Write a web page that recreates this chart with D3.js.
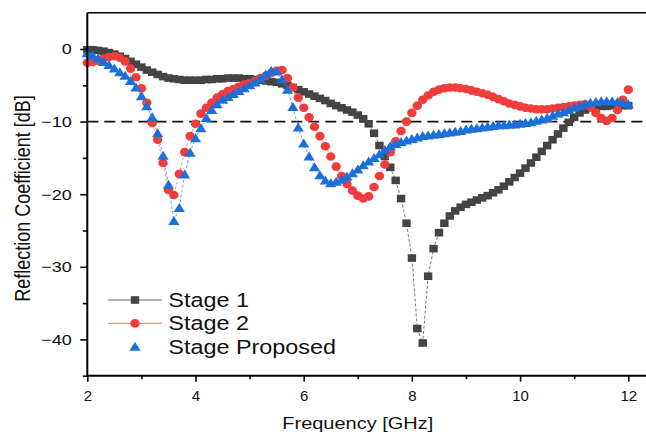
<!DOCTYPE html>
<html>
<head>
<meta charset="utf-8">
<script src="https://cdnjs.cloudflare.com/ajax/libs/d3/7.8.5/d3.min.js"></script>
<style>
  html, body { margin: 0; padding: 0; background: #fff; }
  svg { display: block; font-family: "Liberation Sans", Arial, sans-serif; }
</style>
</head>
<body>
<div class="chart"></div>
<script>
// frequency points [GHz], 0.1 GHz apart
const freq = [
    2.0, 2.1, 2.2, 2.3, 2.4, 2.5, 2.6, 2.7, 2.8, 2.9,
    3.0, 3.1, 3.2, 3.3, 3.4, 3.5, 3.6, 3.7, 3.8, 3.9,
    4.0, 4.1, 4.2, 4.3, 4.4, 4.5, 4.6, 4.7, 4.8, 4.9,
    5.0, 5.1, 5.2, 5.3, 5.4, 5.5, 5.6, 5.7, 5.8, 5.9,
    6.0, 6.1, 6.2, 6.3, 6.4, 6.5, 6.6, 6.7, 6.8, 6.9,
    7.0, 7.1, 7.2, 7.3, 7.4, 7.5, 7.6, 7.7, 7.8, 7.9,
    8.0, 8.1, 8.2, 8.3, 8.4, 8.5, 8.6, 8.7, 8.8, 8.9,
    9.0, 9.1, 9.2, 9.3, 9.4, 9.5, 9.6, 9.7, 9.8, 9.9,
    10.0, 10.1, 10.2, 10.3, 10.4, 10.5, 10.6, 10.7, 10.8, 10.9,
    11.0, 11.1, 11.2, 11.3, 11.4, 11.5, 11.6, 11.7, 11.8, 11.9,
    12.0
]

// reflection coefficient [dB]
const stage1 = [
    -0.1, -0.1, -0.2, -0.3, -0.5, -0.7, -1.0, -1.3, -1.7, -2.1,
    -2.5, -2.9, -3.2, -3.5, -3.8, -4.0, -4.1, -4.2, -4.3, -4.3,
    -4.3, -4.3, -4.2, -4.2, -4.1, -4.1, -4.0, -4.0, -4.0, -4.1,
    -4.1, -4.2, -4.3, -4.4, -4.5, -4.6, -4.8, -5.0, -5.3, -5.6,
    -5.9, -6.2, -6.5, -6.8, -7.1, -7.5, -7.8, -8.1, -8.4, -8.7,
    -9.1, -9.6, -10.3, -11.6, -13.3, -14.8, -16.3, -18.1, -20.6, -24.0,
    -28.8, -38.5, -40.5, -31.3, -27.5, -25.3, -24.0, -23.0, -22.3, -21.8,
    -21.4, -21.1, -20.8, -20.5, -20.2, -19.8, -19.4, -18.9, -18.3, -17.7,
    -17.1, -16.4, -15.7, -14.9, -14.1, -13.3, -12.5, -11.7, -10.9, -10.1,
    -9.4, -8.8, -8.4, -8.1, -8.0, -7.9, -7.9, -7.8, -7.8, -7.8,
    -7.8
]

const stage2 = [
    -1.9, -1.8, -1.6, -1.3, -1.1, -1.0, -1.2, -1.7, -2.7, -3.9,
    -5.4, -7.4, -10.2, -12.5, -15.7, -19.4, -20.1, -17.2, -14.2, -12.0,
    -10.3, -8.9, -8.1, -7.4, -6.7, -6.2, -5.8, -5.5, -5.2, -4.9,
    -4.7, -4.4, -4.0, -3.7, -3.3, -3.0, -2.9, -4.0, -5.3, -6.7,
    -8.1, -9.4, -10.7, -12.0, -13.4, -14.8, -16.2, -17.5, -18.6, -19.5,
    -20.2, -20.6, -20.3, -19.0, -17.5, -15.9, -14.2, -12.7, -11.3, -10.0,
    -8.8, -7.8, -7.0, -6.4, -5.9, -5.6, -5.4, -5.3, -5.3, -5.4,
    -5.5, -5.7, -5.9, -6.1, -6.3, -6.6, -6.9, -7.2, -7.5, -7.7,
    -7.9, -8.1, -8.2, -8.3, -8.3, -8.3, -8.2, -8.1, -8.0, -7.9,
    -7.8, -7.7, -7.6, -8.0, -8.8, -9.5, -9.9, -9.5, -8.4, -7.0,
    -5.6
]

const stageProposed = [
    -0.6, -0.9, -1.3, -1.8, -2.2, -2.7, -3.2, -3.7, -4.4, -5.3,
    -6.5, -7.9, -9.4, -11.6, -14.7, -18.7, -23.7, -21.9, -17.3, -14.3,
    -12.3, -10.9, -9.5, -8.4, -7.6, -7.0, -6.6, -6.2, -5.8, -5.4,
    -5.0, -4.6, -4.1, -3.5, -3.0, -3.1, -4.2, -5.6, -8.0, -10.8,
    -13.0, -14.8, -16.3, -17.4, -18.1, -18.5, -18.3, -18.0, -17.6, -17.1,
    -16.6, -16.0, -15.5, -15.0, -14.5, -13.9, -13.4, -13.1, -12.8, -12.6,
    -12.4, -12.2, -12.0, -11.9, -11.8, -11.7, -11.6, -11.5, -11.4, -11.3,
    -11.1, -11.0, -10.9, -10.8, -10.7, -10.6, -10.5, -10.5, -10.4, -10.4,
    -10.3, -10.2, -10.1, -9.9, -9.7, -9.5, -9.2, -8.9, -8.7, -8.4,
    -8.1, -7.9, -7.6, -7.4, -7.3, -7.2, -7.2, -7.2, -7.3, -7.4,
    -7.6
]

const seriesNames = ["Stage 1", "Stage 2", "Stage Proposed"]
const xTicks = [2, 4, 6, 8, 10, 12]
const xMinorTicks = [3, 5, 7, 9, 11]
const yTicks = [0, -10, -20, -30, -40]
const yMinorTicks = [-5, -15, -25, -35, -45]
const threshold = -10

const width = 646,
    height = 434,
    stretch = 1.2

const x = d3.scaleLinear()
    .domain([2, 12])
    .range([87.3, 628.3])

const y = d3.scaleLinear()
    .domain([-45, 5])
    .range([375.7, 12.7])

const svg = d3.select(".chart")
    .append("svg")
    .attr("width", width)
    .attr("height", height)

svg.append("rect")
    .attr("width", width)
    .attr("height", height)
    .attr("fill", "#fff")

// -10 dB reference line
svg.append("line")
    .attr("x1", x(2))
    .attr("x2", width)
    .attr("y1", y(threshold))
    .attr("y2", y(threshold))
    .attr("stroke", "#111")
    .attr("stroke-width", 1.7)
    .attr("stroke-dasharray", "11,6")

const square = (cx, cy) => `M${cx - 4.2},${cy - 3.8}h8.4v7.6h-8.4Z`
const circle = (cx, cy) => `M${cx - 4.7},${cy}a4.7,4.3 0 1,0 9.4,0a4.7,4.3 0 1,0 -9.4,0Z`
const triangle = (cx, cy) => `M${cx},${cy - 5}L${cx + 5.6},${cy + 4}L${cx - 5.6},${cy + 4}Z`

const series = [
    { name: seriesNames[0], values: stage1, color: "#444444", line: "#555", legendLine: "#9a9a9a", marker: square },
    { name: seriesNames[1], values: stage2, color: "#f23c3c", line: "#f77", legendLine: "#f98a8a", marker: circle },
    { name: seriesNames[2], values: stageProposed, color: "#1c6fd9", line: "#4a8fe6", legendLine: null, marker: triangle }
]

const line = d3.line()
    .x((d, i) => x(freq[i]))
    .y(d => y(d))

series.forEach(s => {
    svg.append("path")
        .datum(s.values)
        .attr("d", line)
        .attr("fill", "none")
        .attr("stroke", s.line)
        .attr("stroke-width", 0.8)
        .attr("stroke-dasharray", "3,2")

    svg.append("g")
        .selectAll("path")
        .data(s.values)
        .join("path")
        .attr("d", (d, i) => s.marker(x(freq[i]), y(d)))
        .attr("fill", s.color)
})

// frame and axes
svg.append("line")
    .attr("x1", x(2))
    .attr("x2", width)
    .attr("y1", y(5))
    .attr("y2", y(5))
    .attr("stroke", "#000")
    .attr("stroke-width", 1.4)

svg.append("line")
    .attr("x1", x(2))
    .attr("x2", width)
    .attr("y1", y(-45))
    .attr("y2", y(-45))
    .attr("stroke", "#000")
    .attr("stroke-width", 2)

svg.append("line")
    .attr("x1", x(2))
    .attr("x2", x(2))
    .attr("y1", y(5))
    .attr("y2", y(-45))
    .attr("stroke", "#000")
    .attr("stroke-width", 2)

const xAxis = svg.append("g")
    .attr("transform", `translate(0,${y(-45)})`)
    .call(d3.axisBottom(x).tickValues(xTicks).tickSize(6).tickPadding(9))
xAxis.select(".domain").remove()

svg.append("g")
    .attr("transform", `translate(0,${y(-45)})`)
    .call(d3.axisBottom(x).tickValues(xMinorTicks).tickSize(3.5).tickFormat(""))
    .select(".domain").remove()

const yAxis = svg.append("g")
    .attr("transform", `translate(${x(2)},0)`)
    .call(d3.axisLeft(y).tickValues(yTicks).tickSize(7).tickPadding(8))
yAxis.select(".domain").remove()

svg.append("g")
    .attr("transform", `translate(${x(2)},0)`)
    .call(d3.axisLeft(y).tickValues(yMinorTicks).tickSize(4.5).tickFormat(""))
    .select(".domain").remove()

svg.selectAll(".tick line")
    .attr("stroke", "#000")
    .attr("stroke-width", 1.6)

xAxis.selectAll("text")
    .style("font-size", "15px")
    .attr("fill", "#111")

yAxis.selectAll("text")
    .style("font-size", "15px")
    .attr("fill", "#111")
    .attr("x", -15.6 / stretch)
    .attr("transform", `scale(${stretch},1)`)

// axis titles
svg.append("text")
    .attr("transform", `translate(${(x(2) + x(12)) / 2},429.3) scale(${stretch * 0.98},1)`)
    .attr("text-anchor", "middle")
    .style("font-size", "17px")
    .attr("fill", "#111")
    .text("Frequency [GHz]")

svg.append("text")
    .attr("transform", `translate(29.5,198.5) rotate(-90) scale(1,${stretch})`)
    .attr("text-anchor", "middle")
    .style("font-size", "18px")
    .attr("fill", "#111")
    .text("Reflection Coefficient [dB]")

// legend
const legend = svg.append("g")
    .selectAll("g")
    .data(series)
    .join("g")
    .attr("transform", (d, i) => `translate(0,${300 + i * 23.4})`)

legend.filter(d => d.legendLine)
    .append("line")
    .attr("x1", 108)
    .attr("x2", 162)
    .attr("stroke", d => d.legendLine)
    .attr("stroke-width", 1.3)

legend.append("path")
    .attr("d", d => d.marker(135, 0))
    .attr("fill", d => d.color)

legend.append("text")
    .attr("transform", `translate(168.3,7) scale(${stretch},1)`)
    .style("font-size", "19.5px")
    .attr("fill", "#111")
    .text(d => d.name)
</script>
</body>
</html>
